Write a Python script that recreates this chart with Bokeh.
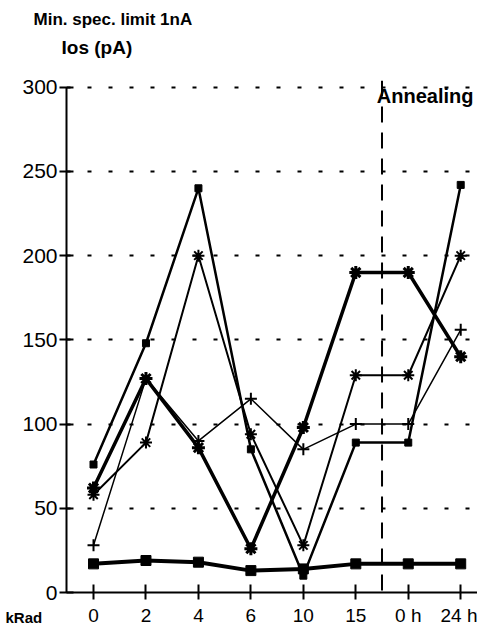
from bokeh.plotting import figure
from bokeh.models import FixedTicker, Span, Label, Title
from bokeh.embed import file_html
from bokeh.resources import INLINE

categories = ["0", "2", "4", "6", "10", "15", "0 h", "24 h"]
y_ticks = [0, 50, 100, 150, 200, 250, 300]
annealing_start = 5.5

baseline_series = [17, 19, 18, 13, 14, 17, 17, 17]
square_series = [76, 148, 240, 85, 10, 89, 89, 242]
thick_series = [62, 127, 86, 26, 98, 190, 190, 140]
asterisk_series = [58, 89, 200, 94, 28, 129, 129, 200]
plus_series = [28, 127, 90, 115, 85, 100, 100, 156]

xs = list(range(len(categories)))

p = figure(width=477, height=628, output_backend="svg", toolbar_location=None, title=None,
           x_range=(-0.515, 7.32), y_range=(0, 304),
           min_border_left=66, min_border_right=0, min_border_top=80, min_border_bottom=34)
p.outline_line_color = None
p.background_fill_color = "white"

p.xgrid.visible = False
p.ygrid.ticker = FixedTicker(ticks=y_ticks[1:])
p.ygrid.grid_line_color = "black"
p.ygrid.grid_line_width = 2
p.ygrid.grid_line_dash = "4 17"

p.yaxis.ticker = FixedTicker(ticks=y_ticks)
p.yaxis.bounds = (0, 300)
p.yaxis.axis_line_width = 2
p.yaxis.major_tick_line_width = 2
p.yaxis.major_tick_in = 7
p.yaxis.major_tick_out = 7
p.yaxis.minor_tick_line_color = None
p.yaxis.major_label_text_font = "Liberation Sans"
p.yaxis.major_label_text_font_size = "21px"
p.yaxis.major_label_text_color = "black"
p.yaxis.major_label_standoff = 2

p.xaxis.ticker = FixedTicker(ticks=xs)
p.xaxis.major_label_overrides = {i: c for i, c in enumerate(categories)}
p.xaxis.axis_line_width = 2
p.xaxis.major_tick_line_width = 2
p.xaxis.major_tick_in = 8
p.xaxis.major_tick_out = 7
p.xaxis.minor_tick_line_color = None
p.xaxis.major_label_text_font = "Liberation Sans"
p.xaxis.major_label_text_font_size = "19px"
p.xaxis.major_label_text_color = "black"
p.xaxis.major_label_standoff = 5

p.add_layout(Span(location=annealing_start, dimension="height", line_color="black",
                  line_width=2, line_dash="16 10"))

# series
p.line(xs, plus_series, line_color="black", line_width=1.5)
p.scatter(xs, plus_series, marker="cross", size=12, line_color="black", line_width=2)

p.line(xs, asterisk_series, line_color="black", line_width=2)
p.scatter(xs, asterisk_series, marker="asterisk", size=12, line_color="black", line_width=2)

p.line(xs, square_series, line_color="black", line_width=2.5)
p.scatter(xs, square_series, marker="square", size=7, fill_color="black", line_color="black")

p.line(xs, thick_series, line_color="black", line_width=3.5)
p.scatter(xs, thick_series, marker="asterisk", size=13, line_color="black", line_width=3)

p.line(xs, baseline_series, line_color="black", line_width=4)
p.scatter(xs, baseline_series, marker="square", size=10, fill_color="black", line_color="black")

p.add_layout(Title(text="Ios (pA)", align="left", offset=-5, standoff=46,
                   text_font="Liberation Sans", text_font_style="bold",
                   text_font_size="19px", text_color="black"), "above")
p.add_layout(Title(text="Min. spec. limit 1nA", align="left", offset=-33, standoff=-35,
                   text_font="Liberation Sans", text_font_style="bold",
                   text_font_size="17px", text_color="black"), "above")
p.add_layout(Title(text="kRad", align="left", offset=-61, standoff=-40,
                   vertical_align="top",
                   text_font="Liberation Sans", text_font_style="bold",
                   text_font_size="15px", text_color="black"), "below")

p.add_layout(Label(x=annealing_start - 0.1, y=295, text="Annealing", text_font="Liberation Sans",
                   text_font_style="bold", text_font_size="20px", text_baseline="middle",
                   text_color="black"))

open("out.html", "w").write(file_html(p, INLINE))
